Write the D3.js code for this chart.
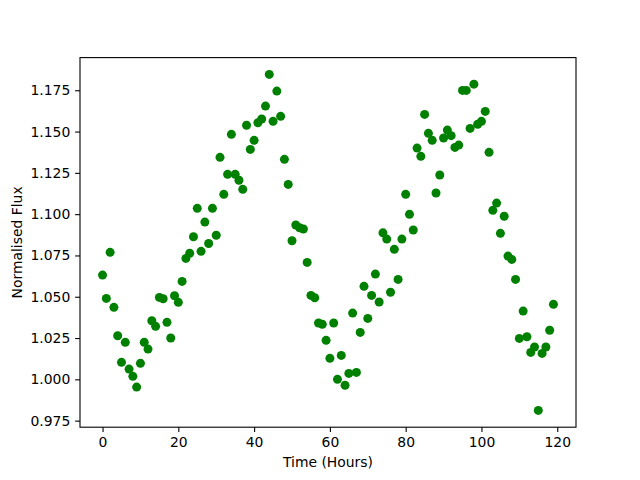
<!DOCTYPE html>
<html>
<head>
<meta charset="utf-8">
<script src="https://cdn.jsdelivr.net/npm/d3@7"></script>
<style>
  body { margin: 0; background: #fff; }
  svg { display: block; }
  text { font-family: "DejaVu Sans", sans-serif; }
</style>
</head>
<body>
<figure id="plot" style="margin:0"></figure>
<script>
// hours since start of observation
const hours = d3.range(0, 120);

// normalised flux, one value per hour
const flux = [
  1.0631, 1.0490, 1.0769, 1.0436, 1.0264, 1.0103, 1.0224, 1.0062, 1.0018, 0.9953,
  1.0097, 1.0224, 1.0183, 1.0355, 1.0321, 1.0496, 1.0488, 1.0345, 1.0250, 1.0506,
  1.0466, 1.0593, 1.0732, 1.0763, 1.0863, 1.1035, 1.0775, 1.0952, 1.0822, 1.1035,
  1.0872, 1.1344, 1.1120, 1.1241, 1.1483, 1.1241, 1.1205, 1.1150, 1.1538, 1.1392,
  1.1447, 1.1553, 1.1576, 1.1654, 1.1846, 1.1562, 1.1745, 1.1592, 1.1332, 1.1180,
  1.0839, 1.0934, 1.0918, 1.0910, 1.0708, 1.0508, 1.0494, 1.0341, 1.0333, 1.0236,
  1.0127, 1.0341, 1.0000, 1.0145, 0.9964, 1.0036, 1.0401, 1.0042, 1.0284, 1.0563,
  1.0369, 1.0508, 1.0637, 1.0468, 1.0887, 1.0849, 1.0527, 1.0787, 1.0605, 1.0849,
  1.1120, 1.0999, 1.0904, 1.1400, 1.1350, 1.1604, 1.1489, 1.1447, 1.1128, 1.1237,
  1.1461, 1.1509, 1.1475, 1.1404, 1.1418, 1.1749, 1.1749, 1.1519, 1.1787, 1.1544,
  1.1562, 1.1622, 1.1374, 1.1023, 1.1067, 1.0884, 1.0987, 1.0746, 1.0726, 1.0605,
  1.0248, 1.0413, 1.0258, 1.0163, 1.0196, 0.9812, 1.0157, 1.0196, 1.0297, 1.0454
];

const xTicks = [0, 20, 40, 60, 80, 100, 120];
const yTicks = [0.975, 1.000, 1.025, 1.050, 1.075, 1.100, 1.125, 1.150, 1.175];

const width = 640, height = 480;
const margin = { top: 57.6, right: 64, bottom: 52.8, left: 80 };
const innerW = width - margin.left - margin.right;
const innerH = height - margin.top - margin.bottom;

const svg = d3.select("figure#plot")
  .append("svg")
  .attr("width", width)
  .attr("height", height);

const g = svg.append("g")
  .attr("transform", "translate(" + margin.left + "," + margin.top + ")");

// matplotlib style 5% padding around the data
const padded = (lo, hi) => {
  const p = (hi - lo) * 0.05;
  return [lo - p, hi + p];
};

const x = d3.scaleLinear()
  .domain(padded(d3.min(hours), d3.max(hours)))
  .range([0, innerW]);

const y = d3.scaleLinear()
  .domain(padded(d3.min(flux), d3.max(flux)))
  .range([innerH, 0]);

const tickLen = 4.86;

// x axis
const xAxis = g.append("g")
  .attr("transform", "translate(0," + innerH + ")")
  .call(d3.axisBottom(x).tickValues(xTicks).tickSize(tickLen).tickPadding(4.86).tickFormat(d3.format("d")));
xAxis.select(".domain").remove();
xAxis.selectAll("line").attr("stroke", "#000").attr("stroke-width", 1.1);
xAxis.selectAll("text").style("font-size", "13.9px").attr("fill", "#000").attr("dy", "0.75em");

// y axis
const yAxis = g.append("g")
  .call(d3.axisLeft(y).tickValues(yTicks).tickSize(tickLen).tickPadding(4.86).tickFormat(d3.format(".3f")));
yAxis.select(".domain").remove();
yAxis.selectAll("line").attr("stroke", "#000").attr("stroke-width", 1.1);
yAxis.selectAll("text").style("font-size", "13.9px").attr("fill", "#000");

// points
g.selectAll("circle.pt")
  .data(hours)
  .enter()
  .append("circle")
  .attr("class", "pt")
  .attr("cx", (d, i) => x(hours[i]))
  .attr("cy", (d, i) => y(flux[i]))
  .attr("r", 4.5)
  .attr("fill", "#008000");

// frame
g.append("rect")
  .attr("width", innerW)
  .attr("height", innerH)
  .attr("fill", "none")
  .attr("stroke", "#000")
  .attr("stroke-width", 1.1);

// labels
svg.append("text")
  .attr("x", margin.left + innerW / 2)
  .attr("y", 467)
  .attr("text-anchor", "middle")
  .style("font-size", "13.9px")
  .text("Time (Hours)");

svg.append("text")
  .attr("transform", "translate(22," + (margin.top + innerH / 2) + ") rotate(-90)")
  .attr("text-anchor", "middle")
  .style("font-size", "13.9px")
  .text("Normalised Flux");
</script>
</body>
</html>
